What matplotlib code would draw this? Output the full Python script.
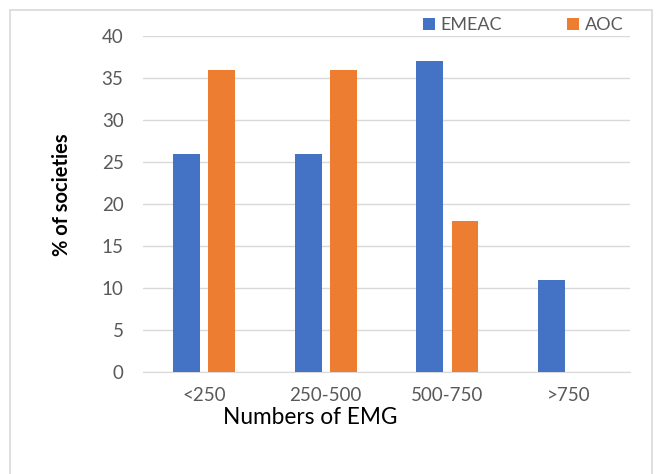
import numpy as np
import matplotlib
matplotlib.use("Agg")
from matplotlib import pyplot as plt
from matplotlib.patches import Rectangle

plt.rcParams['font.family'] = ['Lato', 'DejaVu Sans']

# share of societies (%) by number of EMG
categories = ['<250', '250-500', '500-750', '>750']
emeac = [26, 26, 37, 11]
aoc = [36, 36, 18, 0]

blue = '#4472C4'
orange = '#ED7D31'
grey_text = '#595959'

fig = plt.figure(figsize=(6.57, 4.74), dpi=100)
ax = fig.add_axes([0.2177, 0.2152, 0.7413, 0.7089])

x = np.arange(len(categories))
width = 0.22
off = 0.144
ax.bar(x - off, emeac, width, color=blue, label='EMEAC', zorder=3)
ax.bar(x + off, aoc, width, color=orange, label='AOC', zorder=3)

ax.set_xlim(-0.5, len(categories) - 0.5)
ax.set_ylim(0, 40)
ax.set_yticks(np.arange(0, 41, 5))
ax.set_xticks(x)
ax.set_xticklabels(categories)
ax.yaxis.grid(True, color='#D9D9D9', lw=1, zorder=0)
for s in ['top', 'right', 'left']:
    ax.spines[s].set_visible(False)
ax.spines['bottom'].set_color('#D9D9D9')
ax.tick_params(axis='both', length=0, labelsize=13.5, colors=grey_text)
ax.tick_params(axis='x', pad=11)
ax.tick_params(axis='y', pad=14)

# axis titles
fig.text(310 / 657, 1 - 417 / 474, 'Numbers of EMG', fontsize=16.3,
         color='black', ha='center', va='center')
fig.text(62 / 657, 1 - 195 / 474, '% of societies', rotation=90,
         fontsize=14.5, fontweight='bold', ha='center', va='center')

leg = fig.legend(*ax.get_legend_handles_labels(), loc='center left',
                 bbox_to_anchor=(423 / 657, 1 - 25 / 474),
                 bbox_transform=fig.transFigure, ncol=2, frameon=False,
                 fontsize=13, borderpad=0, borderaxespad=0,
                 handlelength=0.67, handleheight=0.67, handletextpad=0.3,
                 columnspacing=3.6)
for t in leg.get_texts():
    t.set_color(grey_text)

# chart frame
fig.patches.append(Rectangle((10 / 657, -0.1), 642 / 657, 1 - 10 / 474 + 0.1,
                             transform=fig.transFigure, fill=False,
                             edgecolor='#D9D9D9', lw=1.2))

fig.savefig('out.png', dpi=100)
